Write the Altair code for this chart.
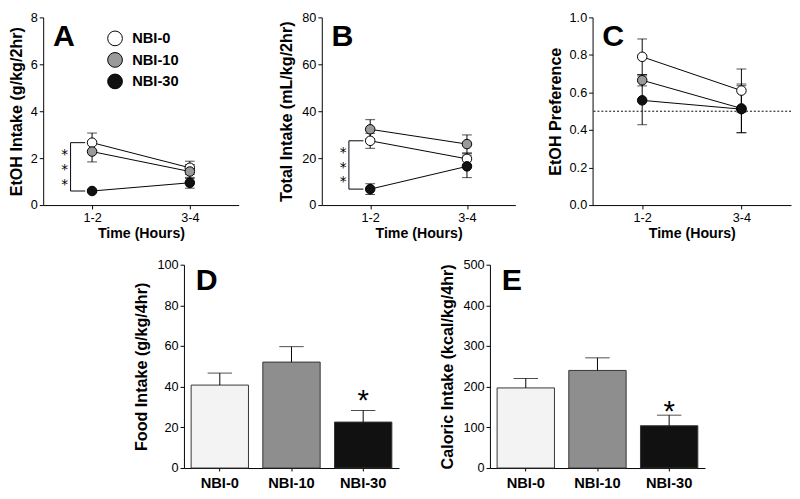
import json
import altair as alt
import pandas as pd

# ---------------- data ----------------
groups = ["NBI-0", "NBI-10", "NBI-30"]
times = ["1-2", "3-4"]

# Panel A: EtOH intake (g/kg/2hr), mean and SEM per time block
etoh_nbi0 = [2.66, 1.59]
etoh_nbi0_sem = [0.41, 0.28]
etoh_nbi10 = [2.28, 1.43]
etoh_nbi10_sem = [0.44, 0.30]
etoh_nbi30 = [0.60, 0.95]
etoh_nbi30_sem = [0.05, 0.23]

# Panel B: total intake (mL/kg/2hr)
total_nbi0 = [27.4, 19.7]
total_nbi0_sem = [3.2, 2.5]
total_nbi10 = [32.3, 26.0]
total_nbi10_sem = [4.1, 3.9]
total_nbi30 = [6.8, 16.5]
total_nbi30_sem = [2.3, 4.8]

# Panel C: EtOH preference
pref_nbi0 = [0.79, 0.61]
pref_nbi0_sem = [0.095, 0.115]
pref_nbi10 = [0.665, 0.515]
pref_nbi10_sem = [0.03, 0.13]
pref_nbi30 = [0.558, 0.511]
pref_nbi30_sem = [0.13, 0.125]
chance_level = 0.5

# Panel D: food intake (g/kg/4hr)
food_mean = [40.8, 52.1, 22.6]
food_sem = [5.9, 7.6, 5.7]

# Panel E: caloric intake (kcal/kg/4hr)
cal_mean = [197, 240, 104]
cal_sem = [23, 31, 26]

significant_groups = ["NBI-30"]

# ---------------- styling ----------------
FONT = "Liberation Sans"
point_colors = ["#ffffff", "#9a9a9a", "#111111"]
bar_colors = ["#f3f3f3", "#8e8e8e", "#111111"]


def long_table(means, sems):
    rows = []
    for g, m, s in zip(groups, means, sems):
        for i, (mv, sv) in enumerate(zip(m, s)):
            rows.append({"group": g, "t": i + 1, "time": times[i],
                         "mean": mv, "lo": mv - sv, "hi": mv + sv})
    return pd.DataFrame(rows)


def yaxis(title, values, fmt=None, title_pad=8):
    kw = dict(title=title, values=values, tickSize=4, labelPadding=2,
              titlePadding=title_pad, labelFontSize=13, titleFontSize=16.5,
              titleFontWeight="bold", labelFont=FONT, titleFont=FONT)
    if fmt:
        kw["format"] = fmt
    return alt.Axis(**kw)


label_expr = json.dumps(times) + "[datum.value - 1]"


def line_panel(df, letter, ytitle, ymax, ticks, fmt=None, legend=None,
               bracket=None, ref_line=None, width=200, title_pad=8):
    xs = alt.Scale(domain=[0.5, 2.5], nice=False, zero=False)
    xa = alt.Axis(values=[1, 2], labelExpr=label_expr, title="Time (Hours)",
                  tickSize=4, labelPadding=3, titlePadding=2,
                  labelFontSize=13, titleFontSize=14.5, titleFontWeight="bold",
                  labelFont=FONT, titleFont=FONT)
    ys = alt.Scale(domain=[0, ymax], nice=False, zero=True)
    ya = yaxis(ytitle, ticks, fmt, title_pad)

    def X(f="t"):
        return alt.X(f + ":Q", scale=xs, axis=xa)

    def Y(f):
        return alt.Y(f + ":Q", scale=ys, axis=ya)

    base = alt.Chart(df)
    layers = []
    if ref_line is not None:
        layers.append(alt.Chart(pd.DataFrame({"v": [ref_line]})).mark_rule(
            color="black", strokeWidth=1, strokeDash=[2, 2]).encode(y=Y("v")))
    layers += [
        base.mark_rule(color="black", strokeWidth=1).encode(
            x=X(), y=Y("lo"), y2="hi:Q"),
        base.mark_tick(color="black", orient="horizontal", size=10,
                       thickness=1).encode(x=X(), y=Y("hi")),
        base.mark_tick(color="black", orient="horizontal", size=10,
                       thickness=1).encode(x=X(), y=Y("lo")),
        base.mark_line(color="black", strokeWidth=1).encode(
            x=X(), y=Y("mean"), detail="group:N"),
        base.mark_circle(size=95, stroke="black", strokeWidth=1,
                         opacity=1).encode(
            x=X(), y=Y("mean"),
            fill=alt.Fill("group:N",
                          scale=alt.Scale(domain=groups, range=point_colors),
                          legend=legend)),
    ]
    if bracket is not None:
        top, bot, star_y = bracket
        one = alt.Chart(pd.DataFrame({"k": [0]}))
        layers += [
            one.mark_rule(color="black", strokeWidth=1).encode(
                x=alt.datum(0.78), y=alt.datum(bot), y2=alt.datum(top)),
            one.mark_rule(color="black", strokeWidth=1).encode(
                x=alt.datum(0.78), x2=alt.datum(0.93), y=alt.datum(top)),
            one.mark_rule(color="black", strokeWidth=1).encode(
                x=alt.datum(0.78), x2=alt.datum(0.93), y=alt.datum(bot)),
            one.mark_text(font="DejaVu Sans", fontSize=14, lineBreak="\n",
                          lineHeight=15, color="black").encode(
                x=alt.datum(0.72), y=alt.datum(star_y),
                text=alt.value("*\n*\n*")),
        ]
    layers.append(
        alt.Chart(pd.DataFrame({"lab": [letter]})).mark_text(
            font=FONT, fontSize=31, fontWeight="bold", align="left",
            baseline="alphabetic", color="black").encode(
            x=alt.value(10), y=alt.value(29), text="lab:N"))
    return alt.layer(*layers).properties(width=width, height=192)


def bar_panel(means, sems, letter, ytitle, ymax, ticks, star_dy):
    df = pd.DataFrame({"group": groups, "mean": means,
                       "hi": [m + s for m, s in zip(means, sems)]})
    xe = alt.X("group:N", sort=groups,
               scale=alt.Scale(paddingInner=0.2, paddingOuter=0.1),
               axis=alt.Axis(title=None, labelAngle=0, tickSize=3,
                             labelPadding=5, labelFontSize=15,
                             labelFontWeight="bold", labelFont=FONT))
    ys = alt.Scale(domain=[0, ymax], nice=False)
    ya = yaxis(ytitle, ticks)

    def Y(f):
        return alt.Y(f + ":Q", scale=ys, axis=ya)

    base = alt.Chart(df)
    bars = base.mark_bar(stroke="#333333", strokeWidth=1).encode(
        x=xe, y=Y("mean"),
        fill=alt.Fill("group:N",
                      scale=alt.Scale(domain=groups, range=bar_colors),
                      legend=None))
    err = base.mark_rule(color="black", strokeWidth=1).encode(
        x=xe, y=Y("mean"), y2="hi:Q")
    cap = base.mark_tick(color="black", orient="horizontal", size=25,
                         thickness=1).encode(x=xe, y=Y("hi"))
    star = base.transform_filter(
        alt.FieldOneOfPredicate(field="group", oneOf=significant_groups)
    ).mark_text(font=FONT, fontSize=30, color="black", dy=star_dy,
                baseline="middle").encode(x=xe, y=Y("hi"),
                                          text=alt.value("*"))
    letter_t = alt.Chart(pd.DataFrame({"lab": [letter]})).mark_text(
        font=FONT, fontSize=31, fontWeight="bold", align="left",
        baseline="alphabetic", color="black").encode(
        x=alt.value(12), y=alt.value(26), text="lab:N")
    return alt.layer(bars, err, cap, star, letter_t).properties(
        width=220, height=208)


legend_a = alt.Legend(title=None, orient="none", legendX=65, legendY=13,
                      symbolType="circle", symbolSize=227,
                      symbolStrokeColor="black", symbolStrokeWidth=1,
                      symbolOpacity=1, labelFont=FONT, labelFontSize=15,
                      labelFontWeight="bold", labelColor="black",
                      rowPadding=1, labelOffset=9, padding=0)

dfA = long_table([etoh_nbi0, etoh_nbi10, etoh_nbi30],
                 [etoh_nbi0_sem, etoh_nbi10_sem, etoh_nbi30_sem])
dfB = long_table([total_nbi0, total_nbi10, total_nbi30],
                 [total_nbi0_sem, total_nbi10_sem, total_nbi30_sem])
dfC = long_table([pref_nbi0, pref_nbi10, pref_nbi30],
                 [pref_nbi0_sem, pref_nbi10_sem, pref_nbi30_sem])

panelA = line_panel(dfA, "A", "EtOH Intake (g/kg/2hr)", 8, [0, 2, 4, 6, 8],
                    legend=legend_a, title_pad=6,
                    bracket=(etoh_nbi0[0], etoh_nbi30[0], 2.12))
panelB = line_panel(dfB, "B", "Total Intake (mL/kg/2hr)", 80,
                    [0, 20, 40, 60, 80],
                    bracket=(total_nbi0[0], total_nbi30[0], 22.1),
                    width=198)
panelC = line_panel(dfC, "C", "EtOH Preference", 1.0,
                    [0, 0.2, 0.4, 0.6, 0.8, 1.0], fmt=".1f",
                    ref_line=chance_level, width=203, title_pad=6)

panelD = bar_panel(food_mean, food_sem, "D", "Food Intake (g/kg/4hr)", 100,
                   [0, 20, 40, 60, 80, 100], -10)
panelE = bar_panel(cal_mean, cal_sem, "E", "Caloric Intake (kcal/kg/4hr)",
                   500, [0, 100, 200, 300, 400, 500], -3)

spacer = alt.Chart(pd.DataFrame({"k": [0]})).mark_rect(opacity=0).encode(
    x=alt.value(0), x2=alt.value(1), y=alt.value(0), y2=alt.value(1)
).properties(width=59, height=1,
             view=alt.ViewBackground(stroke="transparent", strokeWidth=0,
                                     fill="transparent"))

top = alt.hconcat(
    alt.hconcat(panelA, panelB, spacing=40).resolve_scale(fill="independent"),
    panelC, spacing=32).resolve_scale(fill="independent")
bottom = alt.hconcat(
    spacer,
    alt.hconcat(panelD, panelE, spacing=41).resolve_scale(fill="independent"),
    spacing=33).resolve_scale(fill="independent")

chart = alt.vconcat(top, bottom, spacing=19).resolve_scale(
    fill="independent").properties(
    padding={"left": 0, "top": -2, "right": 0, "bottom": 0},
    background="white"
).configure_view(strokeWidth=0, stroke="transparent").configure_axis(
    grid=False, domainColor="black", tickColor="black", labelColor="black",
    titleColor="black", labelFont=FONT, titleFont=FONT, domainWidth=1,
    tickWidth=1
)

chart.save("out.html", embed_options={"renderer": "svg", "actions": False})
